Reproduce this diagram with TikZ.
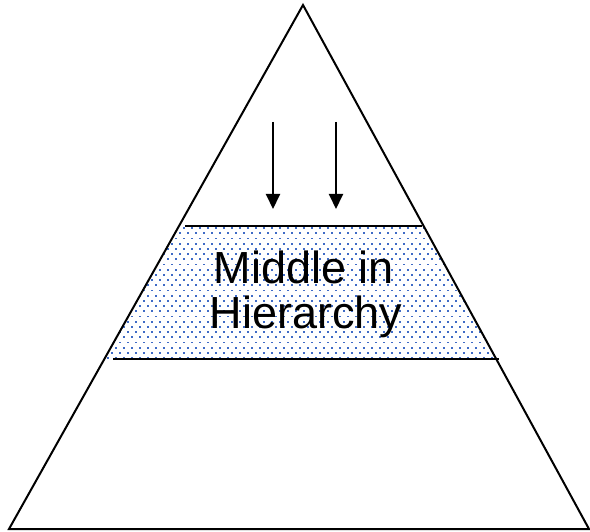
\documentclass[tikz,border=0pt]{standalone}
\usepackage{fontspec}
\setmainfont{Liberation Sans}
\usetikzlibrary{arrows.meta}
\definecolor{dotblue}{HTML}{3F6BC6}
\tikzset{
  edge/.style={line width=2pt, line join=miter},
  band/.style={line width=2.4pt},
  downarrow/.style={line width=2pt, -{Triangle[width=14pt,length=15pt]}},
  label/.style={anchor=base, inner sep=0pt, font=\fontsize{45}{45}\selectfont}
}
\begin{document}
\begin{tikzpicture}[x=1pt,y=-1pt]
\useasboundingbox (0,0) rectangle (590,532);
\coordinate (apex) at (303,5);
\coordinate (bl) at (9,529);
\coordinate (br) at (589,529);
% dotted band
\begin{scope}
  \clip (apex) -- (bl) -- (br) -- cycle;
  \clip (0,226) rectangle (590,359);
  \foreach \r in {0,...,26} {
    \pgfmathsetmacro\yy{229+5.2*\r}
    \pgfmathsetmacro\off{mod(\r,2)*4}
    \foreach \c in {0,...,50} {
      \fill[dotblue] (\off+103+8*\c,\yy) rectangle ++(1.8,-1.8);
    }
  }
\end{scope}
% triangle
\draw[edge] (apex) -- (bl) -- (br) -- cycle;
% band lines
\coordinate (t1) at (185,226);
\coordinate (t2) at (422,226);
\coordinate (b1) at (113,359);
\coordinate (b2) at (499,359);
\draw[band] (t1) -- (t2);
\draw[band] (b1) -- (b2);
% arrows
\coordinate (a1s) at (273,122);
\coordinate (a1e) at (273,209);
\coordinate (a2s) at (336,122);
\coordinate (a2e) at (336,209);
\draw[downarrow] (a1s) -- (a1e);
\draw[downarrow] (a2s) -- (a2e);
% text
\node[label] (l1) at (304,284) {Middle in};
\node[label] (l2) at (306,329) {Hierarchy};
\end{tikzpicture}
\end{document}
